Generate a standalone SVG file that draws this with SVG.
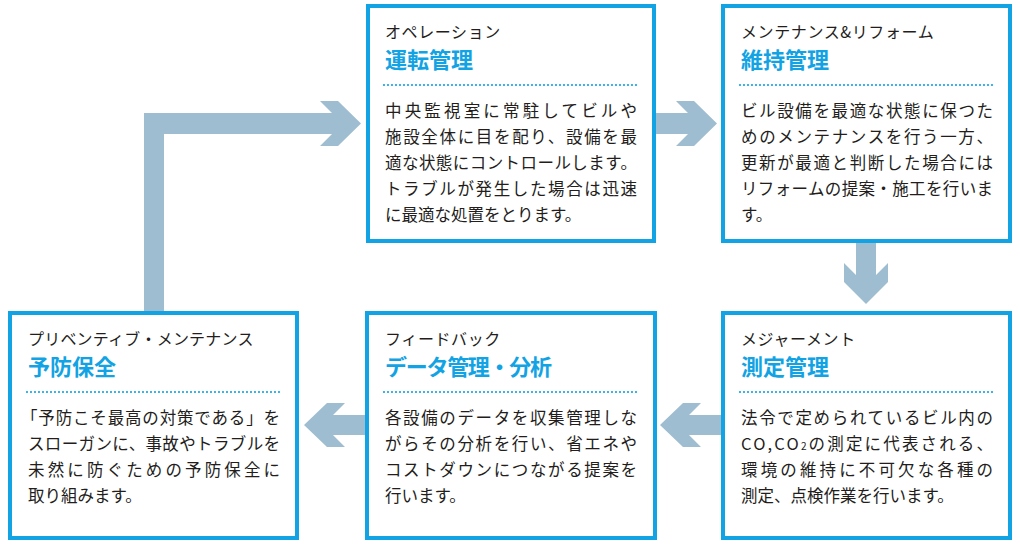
<svg xmlns="http://www.w3.org/2000/svg" width="1020" height="546" viewBox="0 0 1020 546">
<style>
.box{fill:#fff;stroke:#12a3e4;stroke-width:4}
.sub{font-family:"Noto Sans CJK JP","Noto Sans",sans-serif;font-size:16px;letter-spacing:0.6px;fill:#231d1b}
.ttl{font-family:"Noto Sans CJK JP","Noto Sans",sans-serif;font-size:22px;font-weight:bold;fill:#12a3e4}
.body{font-family:"Noto Sans CJK JP","Noto Sans",sans-serif;font-size:16.5px;fill:#231d1b}
.dot{stroke:#12a3e4;stroke-width:2.2;stroke-linecap:round;stroke-dasharray:0 4;fill:none}
.arr{fill:#9ebdd0}
</style>
<g id="connectors">
<polygon class="arr" points="144,311 144,113 332,113 320,101 338,101 361,123.5 338,146 320,146 332,134 164,134 164,311"/>
<polygon class="arr" points="650,113 688,113 676,101 694,101 717,123.5 694,146 676,146 688,134 650,134"/>
<polygon class="arr" points="856,238 856,275 844,263 844,282 866,304 888,282 888,263 876,275 876,238"/>
<polygon class="arr" points="728,415 689,415 701,403 683,403 660,425 683,447 701,447 689,435 728,435"/>
<polygon class="arr" points="372,415 333,415 345,403 327,403 304,425 327,447 345,447 333,435 372,435"/>
</g>
<g id="node-operation">
<rect class="box" x="368" y="6" width="286" height="235"/>
<text class="sub" x="385" y="38">オペレーション</text>
<text class="ttl" x="385" y="68">運転管理</text>
<line class="dot" x1="384" y1="85" x2="638" y2="85"/>
<text class="body" x="385" y="116.5" textLength="252" lengthAdjust="spacing">中央監視室に常駐してビルや</text>
<text class="body" x="385" y="142.5" textLength="252" lengthAdjust="spacing">施設全体に目を配り、設備を最</text>
<text class="body" x="385" y="168.5" textLength="252" lengthAdjust="spacing">適な状態にコントロールします。</text>
<text class="body" x="385" y="194.5" textLength="252" lengthAdjust="spacing">トラブルが発生した場合は迅速</text>
<text class="body" x="385" y="220.5">に最適な処置をとります。</text>
</g>
<g id="node-maintenance">
<rect class="box" x="723" y="6" width="287" height="235"/>
<text class="sub" x="741" y="38">メンテナンス&amp;リフォーム</text>
<text class="ttl" x="741" y="68">維持管理</text>
<line class="dot" x1="740" y1="85" x2="995" y2="85"/>
<text class="body" x="741" y="116.5" textLength="252" lengthAdjust="spacing">ビル設備を最適な状態に保つた</text>
<text class="body" x="741" y="142.5" textLength="252" lengthAdjust="spacing">めのメンテナンスを行う一方、</text>
<text class="body" x="741" y="168.5" textLength="252" lengthAdjust="spacing">更新が最適と判断した場合には</text>
<text class="body" x="741" y="194.5" textLength="252" lengthAdjust="spacing">リフォームの提案・施工を行いま</text>
<text class="body" x="741" y="220.5">す。</text>
</g>
<g id="node-measurement">
<rect class="box" x="723" y="313" width="287" height="225"/>
<text class="sub" x="741" y="345">メジャーメント</text>
<text class="ttl" x="741" y="375">測定管理</text>
<line class="dot" x1="740" y1="392" x2="995" y2="392"/>
<text class="body" x="741" y="423.5" textLength="252" lengthAdjust="spacing">法令で定められているビル内の</text>
<text class="body" x="741" y="449.5" textLength="252" lengthAdjust="spacing">CO,CO<tspan font-size="10">2</tspan>の測定に代表される、</text>
<text class="body" x="741" y="475.5" textLength="252" lengthAdjust="spacing">環境の維持に不可欠な各種の</text>
<text class="body" x="741" y="501.5">測定、点検作業を行います。</text>
</g>
<g id="node-feedback">
<rect class="box" x="367" y="313" width="288" height="225"/>
<text class="sub" x="385" y="345">フィードバック</text>
<text class="ttl" x="385" y="375" textLength="167" lengthAdjust="spacing">データ管理・分析</text>
<line class="dot" x1="384" y1="392" x2="638" y2="392"/>
<text class="body" x="385" y="423.5" textLength="252" lengthAdjust="spacing">各設備のデータを収集管理しな</text>
<text class="body" x="385" y="449.5" textLength="252" lengthAdjust="spacing">がらその分析を行い、省エネや</text>
<text class="body" x="385" y="475.5" textLength="252" lengthAdjust="spacing">コストダウンにつながる提案を</text>
<text class="body" x="385" y="501.5">行います。</text>
</g>
<g id="node-preventive">
<rect class="box" x="10" y="313" width="287" height="225"/>
<text class="sub" x="28" y="345" textLength="226" lengthAdjust="spacing">プリベンティブ・メンテナンス</text>
<text class="ttl" x="28" y="375">予防保全</text>
<line class="dot" x1="27" y1="392" x2="282" y2="392"/>
<text class="body" x="21" y="423.5" textLength="259" lengthAdjust="spacing">「予防こそ最高の対策である」を</text>
<text class="body" x="28" y="449.5" textLength="252" lengthAdjust="spacing">スローガンに、事故やトラブルを</text>
<text class="body" x="28" y="475.5" textLength="252" lengthAdjust="spacing">未然に防ぐための予防保全に</text>
<text class="body" x="28" y="501.5">取り組みます。</text>
</g>
</svg>
